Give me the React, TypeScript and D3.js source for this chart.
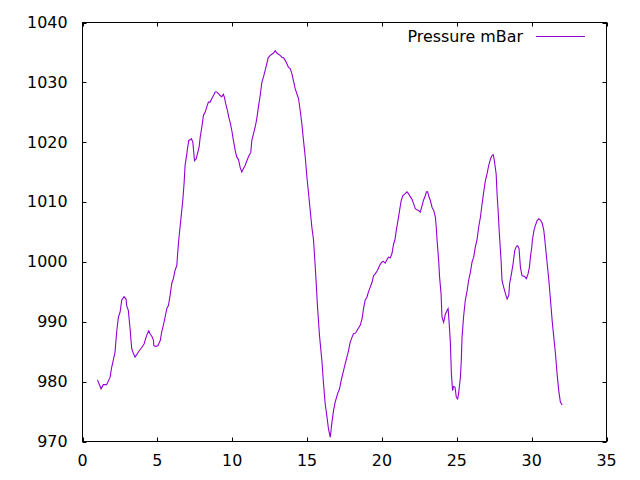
import React from "react";
import * as d3 from "d3";

const dayValues: number[] = [
  1.0, 1.24, 1.39, 1.61, 1.84, 1.95, 2.17, 2.29, 2.4, 2.51, 2.62, 2.77, 2.91, 2.95, 3.06, 3.18, 3.24, 3.29, 3.4, 3.51,
  3.67, 3.8, 3.96, 4.11, 4.22, 4.31, 4.42, 4.51, 4.65, 4.74, 4.76, 4.87, 5.03, 5.2, 5.29, 5.4, 5.52, 5.63, 5.74, 5.85,
  5.96, 6.07, 6.18, 6.3, 6.36, 6.43, 6.56, 6.7, 6.79, 6.85, 6.97, 7.03, 7.1, 7.19, 7.27, 7.37, 7.43, 7.48, 7.59, 7.68,
  7.79, 7.86, 7.97, 8.08, 8.19, 8.3, 8.41, 8.52, 8.64, 8.75, 8.86, 8.97, 9.08, 9.19, 9.3, 9.41, 9.48, 9.57, 9.68, 9.77,
  9.86, 9.97, 10.08, 10.2, 10.31, 10.42, 10.53, 10.64, 10.75, 10.86, 10.98, 11.09, 11.24, 11.31, 11.42, 11.53, 11.64,
  11.75, 11.87, 11.98, 12.09, 12.2, 12.31, 12.4, 12.54, 12.65, 12.76, 12.87, 12.98, 13.09, 13.2, 13.32, 13.43, 13.54,
  13.65, 13.76, 13.87, 13.98, 14.09, 14.21, 14.32, 14.43, 14.54, 14.65, 14.76, 14.88, 14.99, 15.1, 15.21, 15.32, 15.43,
  15.54, 15.61, 15.7, 15.83, 15.99, 16.1, 16.21, 16.33, 16.43, 16.55, 16.66, 16.77, 16.88, 17.04, 17.17, 17.28, 17.44,
  17.55, 17.66, 17.77, 17.88, 18.0, 18.1, 18.24, 18.37, 18.55, 18.67, 18.77, 18.88, 19.0, 19.1, 19.22, 19.34, 19.44,
  19.55, 19.71, 19.84, 20.0, 20.1, 20.22, 20.34, 20.44, 20.56, 20.67, 20.78, 20.87, 20.96, 21.07, 21.18, 21.29, 21.4,
  21.56, 21.67, 21.78, 21.89, 22.0, 22.12, 22.23, 22.34, 22.45, 22.56, 22.68, 22.79, 22.9, 22.97, 23.05, 23.15, 23.23,
  23.35, 23.46, 23.57, 23.63, 23.68, 23.79, 23.85, 23.95, 24.01, 24.12, 24.24, 24.35, 24.42, 24.48, 24.57, 24.64, 24.72,
  24.79, 24.88, 24.97, 25.06, 25.12, 25.24, 25.3, 25.35, 25.46, 25.57, 25.69, 25.79, 25.91, 26.02, 26.13, 26.24, 26.35,
  26.46, 26.58, 26.69, 26.8, 26.91, 27.02, 27.13, 27.25, 27.36, 27.44, 27.51, 27.63, 27.69, 27.76, 27.83, 27.87, 27.96,
  28.02, 28.13, 28.25, 28.36, 28.47, 28.53, 28.65, 28.76, 28.87, 28.98, 29.07, 29.16, 29.2, 29.25, 29.36, 29.52, 29.65,
  29.76, 29.85, 29.92, 30.01, 30.05, 30.16, 30.25, 30.37, 30.48, 30.59, 30.7, 30.81, 30.88, 30.97, 31.04, 31.14, 31.26,
  31.37, 31.48, 31.59, 31.7, 31.81, 31.92, 32.04,
];

const pressureValues: number[] = [
  980.3, 978.8, 979.5, 979.5, 980.7, 982.4, 984.9, 988.5, 990.8, 991.6, 993.6, 994.2, 993.8, 992.7, 991.9, 988.8, 986.9,
  985.5, 984.7, 984.1, 984.7, 985.2, 985.7, 986.3, 987.2, 987.9, 988.5, 988.0, 987.5, 986.9, 986.0, 985.9, 986.0, 986.9,
  988.3, 989.4, 990.8, 992.2, 992.7, 994.4, 996.4, 997.2, 998.6, 999.4, 1001.6, 1003.7, 1006.9, 1010.3, 1013.3, 1016.1,
  1018.1, 1019.2, 1020.3, 1020.4, 1020.6, 1020.0, 1018.3, 1016.9, 1017.2, 1018.1, 1019.2, 1020.8, 1022.5, 1024.5,
  1025.0, 1025.9, 1026.7, 1026.7, 1027.3, 1027.8, 1028.4, 1028.4, 1028.1, 1027.8, 1027.6, 1028.0, 1027.5, 1026.4,
  1025.3, 1024.2, 1023.3, 1022.0, 1020.3, 1018.6, 1017.5, 1017.1, 1015.8, 1015.0, 1015.6, 1016.1, 1016.9, 1017.6,
  1018.3, 1020.3, 1021.4, 1022.5, 1023.9, 1025.9, 1027.8, 1030.0, 1030.9, 1032.0, 1033.1, 1034.1, 1034.5, 1034.7,
  1034.9, 1035.3, 1034.9, 1034.7, 1034.5, 1034.2, 1034.1, 1033.7, 1033.1, 1032.5, 1032.3, 1031.5, 1030.3, 1028.9,
  1028.1, 1027.3, 1025.3, 1023.1, 1020.3, 1017.5, 1014.2, 1011.4, 1008.6, 1005.8, 1003.7, 999.4, 996.4, 992.4, 987.7,
  983.5, 979.6, 976.3, 974.1, 972.1, 970.7, 973.2, 975.2, 976.6, 978.0, 978.8, 980.2, 981.9, 983.0, 984.1, 985.2, 986.6,
  987.4, 988.0, 988.1, 988.7, 989.4, 990.5, 992.2, 993.6, 994.1, 995.0, 995.8, 996.6, 997.7, 998.0, 998.6, 999.4,
  1000.0, 1000.1, 999.8, 1000.4, 1000.8, 1000.7, 1001.4, 1003.0, 1003.7, 1005.3, 1006.9, 1008.6, 1010.3, 1011.1,
  1011.4, 1011.7, 1011.4, 1010.9, 1010.5, 1009.7, 1008.9, 1008.7, 1008.6, 1008.3, 1009.4, 1010.4, 1011.1, 1011.7,
  1011.7, 1010.8, 1010.3, 1009.1, 1008.6, 1007.5, 1005.8, 1003.7, 1000.2, 997.5, 994.7, 990.8, 989.9, 991.3, 991.9,
  992.2, 990.2, 986.6, 981.3, 978.5, 979.2, 979.1, 977.4, 977.1, 978.0, 980.7, 983.5, 987.4, 991.0, 993.6, 995.2, 996.9,
  998.3, 1000.0, 1000.8, 1002.5, 1003.7, 1005.8, 1007.5, 1009.7, 1011.7, 1013.6, 1014.7, 1016.1, 1017.2, 1017.8,
  1017.9, 1016.9, 1014.7, 1011.4, 1008.6, 1005.3, 1003.7, 1000.2, 996.9, 995.8, 994.7, 993.8, 994.4, 996.4, 998.0,
  999.7, 1001.9, 1002.6, 1002.7, 1002.2, 1000.8, 999.1, 997.7, 997.6, 997.2, 998.0, 999.1, 1000.8, 1002.5, 1003.7,
  1005.3, 1006.1, 1006.9, 1007.2, 1007.0, 1006.5, 1005.3, 1003.7, 1001.4, 999.7, 997.2, 993.6, 990.2, 987.4, 984.7,
  981.3, 978.5, 976.6, 976.1,
];

const xTicks: number[] = [0, 5, 10, 15, 20, 25, 30, 35];
const yTicks: number[] = [970, 980, 990, 1000, 1010, 1020, 1030, 1040];
const seriesLabel = "Pressure mBar";

const W = 640;
const H = 480;
const left = 82.5;
const right = 606.5;
const top = 22.5;
const bottom = 441.5;
const tickLen = 4;
const font = "'DejaVu Sans', sans-serif";
const fontSize = 15.9;
const lineColor = "#9400d3";

export default function App() {
  const x = d3.scaleLinear().domain([0, 35]).range([left, right]);
  const y = d3.scaleLinear().domain([970, 1040]).range([bottom, top]);
  const points: [number, number][] = dayValues.map((d, i) => [d, pressureValues[i]]);
  const line = d3
    .line<[number, number]>()
    .x((d) => x(d[0]))
    .y((d) => y(d[1]));

  return (
    <svg
      width={W}
      height={H}
      style={{ position: "absolute", left: 0, top: 0, background: "#fff" }}
      fontFamily={font}
      fontSize={fontSize}
    >
      <rect x={0} y={0} width={W} height={H} fill="#fff" />
      <path d={line(points) || ""} fill="none" stroke={lineColor} strokeWidth={1.1} />
      {/* frame */}
      <rect x={left} y={top} width={right - left} height={bottom - top} fill="none" stroke="#000" strokeWidth={1} />
      {/* y ticks */}
      {yTicks.map((t) => (
        <g key={"y" + t}>
          <line x1={left} x2={left + tickLen} y1={Math.round(y(t)) + 0.5} y2={Math.round(y(t)) + 0.5} stroke="#000" />
          <line x1={right} x2={right - tickLen} y1={Math.round(y(t)) + 0.5} y2={Math.round(y(t)) + 0.5} stroke="#000" />
          <text x={67.5} y={y(t) + 5.4} textAnchor="end" fill="#000">
            {t}
          </text>
        </g>
      ))}
      {/* x ticks */}
      {xTicks.map((t) => (
        <g key={"x" + t}>
          <line x1={Math.round(x(t)) + 0.5} x2={Math.round(x(t)) + 0.5} y1={bottom} y2={bottom - tickLen} stroke="#000" />
          <line x1={Math.round(x(t)) + 0.5} x2={Math.round(x(t)) + 0.5} y1={top} y2={top + tickLen} stroke="#000" />
          <text x={x(t)} y={465.5} textAnchor="middle" fill="#000">
            {t}
          </text>
        </g>
      ))}
      {/* legend */}
      <text x={523} y={41.5} textAnchor="end" fill="#000">
        {seriesLabel}
      </text>
      <line x1={536} x2={585} y1={36.5} y2={36.5} stroke={lineColor} strokeWidth={1.1} />
    </svg>
  );
}
